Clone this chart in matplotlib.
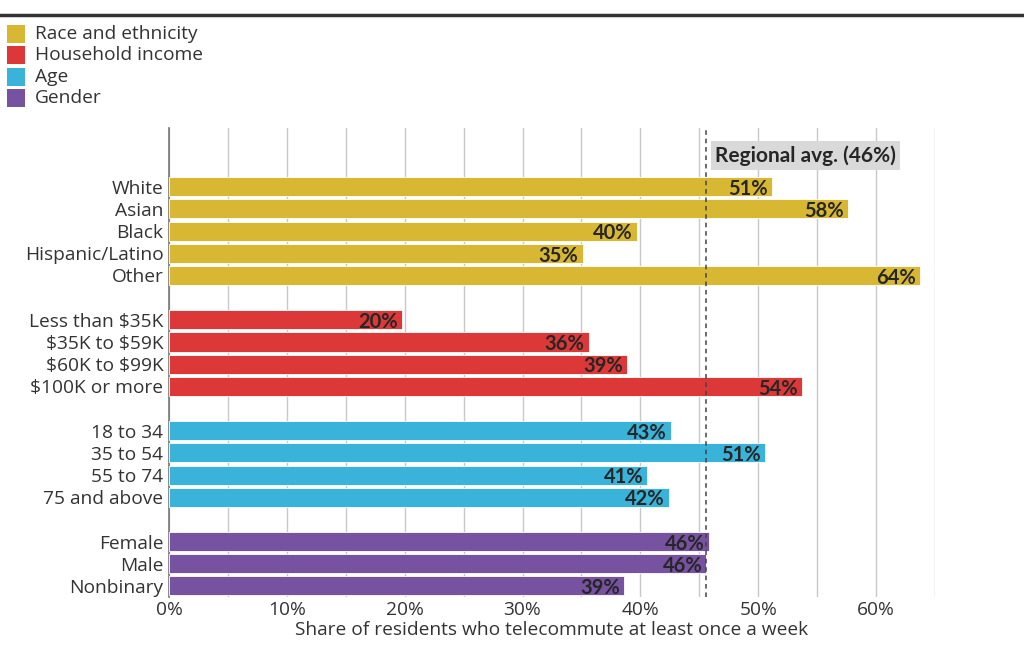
import matplotlib
matplotlib.use("Agg")
import matplotlib.pyplot as plt
from matplotlib.patches import Rectangle

plt.rcParams['font.family'] = ['Open Sans', 'DejaVu Sans']

groups = ["Race and ethnicity", "Household income", "Age", "Gender"]
group_colors = ["#D8B833", "#DC3838", "#39B3DA", "#7652A1"]

race_labels = ["White", "Asian", "Black", "Hispanic/Latino", "Other"]
race_values = [51.2, 57.6, 39.7, 35.1, 63.7]
income_labels = ["Less than \\$35K", "\\$35K to \\$59K", "\\$60K to \\$99K", "\\$100K or more"]
income_values = [19.8, 35.6, 38.9, 53.7]
age_labels = ["18 to 34", "35 to 54", "55 to 74", "75 and above"]
age_values = [42.6, 50.6, 40.6, 42.4]
gender_labels = ["Female", "Male", "Nonbinary"]
gender_values = [45.8, 45.6, 38.6]

regional_avg = 45.6
regional_label = "Regional avg. (46%)"
xticks = [0, 10, 20, 30, 40, 50, 60]
xlabel = "Share of residents who telecommute at least once a week"

all_groups = [(race_labels, race_values), (income_labels, income_values),
              (age_labels, age_values), (gender_labels, gender_values)]

BOLD = ['Lato', 'DejaVu Sans']

fig = plt.figure(figsize=(10.24, 6.6), dpi=100)
ax = fig.add_axes([169/1024, 63/660, (935-169)/1024, (597-128)/660])

ypos, labels = [], []
pos = 0
for gi, (labs, vals) in enumerate(all_groups):
    for lab, v in zip(labs, vals):
        ax.barh(pos, v, height=0.86, color=group_colors[gi], edgecolor='white',
                linewidth=0.6, zorder=3)
        ax.text(v - 0.35, pos + 0.1, f"{round(v)}%", ha='right', va='center',
                fontsize=14.5, fontweight='bold', family=BOLD, color='#262626', zorder=5)
        ypos.append(pos)
        labels.append(lab)
        pos += 1
    pos += 1

ax.set_ylim(18.5, -2.65)
ax.set_xlim(0, 65)
ax.set_yticks(ypos)
ax.set_yticklabels(labels, fontsize=13.8, color='#333333')
ax.set_xticks(xticks)
ax.set_xticklabels([f"{t}%" for t in xticks], fontsize=13.8, color='#333333')
ax.set_xticks(list(range(0, 70, 5)), minor=True)
ax.tick_params(axis='both', which='both', length=0)
ax.tick_params(axis='y', pad=4)
ax.tick_params(axis='x', pad=3)
ax.grid(axis='x', which='both', color='#c8c8c8', linewidth=1, zorder=0)
for s in ['top', 'right', 'bottom']:
    ax.spines[s].set_visible(False)
ax.spines['left'].set_color('#777777')
ax.spines['left'].set_linewidth(1.2)
ax.set_xlabel(xlabel, fontsize=13.8, color='#333333', labelpad=1)

ax.axvline(regional_avg, color='#444444', linestyle=(0, (3, 2.5)), linewidth=1.1, zorder=4)
ax.text(regional_avg + 0.75, -1.4, regional_label, ha='left', va='center',
        fontsize=15, fontweight='bold', family=BOLD, color='#262626', zorder=6,
        bbox=dict(boxstyle='square,pad=0.2', facecolor='#d9d9d9', edgecolor='none'))

# top rule
fig.add_artist(plt.Line2D([0, 1], [1 - 15/660, 1 - 15/660], color='#333333', linewidth=2.5))

# legend
for i, (g, c) in enumerate(zip(groups, group_colors)):
    yc = 34 + i * 21.3
    fig.add_artist(Rectangle((7/1024, 1 - (yc + 9)/660), 18/1024, 18/660,
                             facecolor=c, edgecolor='none', transform=fig.transFigure))
    fig.text(35/1024, 1 - yc/660, g, ha='left', va='center', fontsize=13.8, color='#333333')

fig.savefig("out.png", dpi=100)
